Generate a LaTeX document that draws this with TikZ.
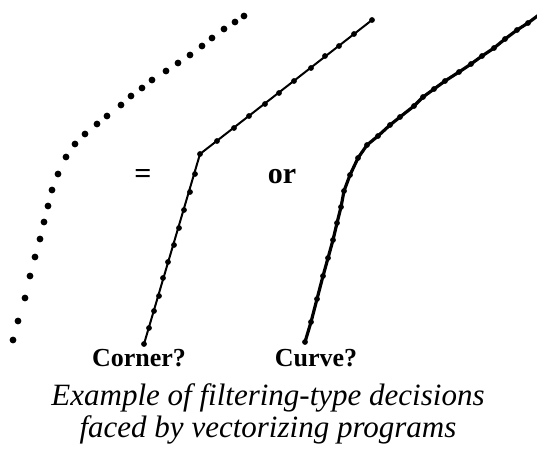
\documentclass[tikz,border=0pt]{standalone}
\usepackage{fontspec}
\setmainfont{Liberation Serif}
\begin{document}
\begin{tikzpicture}[x=1pt,y=-1pt,
  bigdot/.style={fill=black},
  smalldot/.style={fill=black},
  cornerline/.style={line width=2pt,line join=round},
  curveline/.style={line width=3.2pt,line join=round,line cap=round},
  lbl/.style={font=\fontsize{26}{28}\selectfont\bfseries,inner sep=0pt,anchor=base},
  midlbl/.style={font=\fontsize{30}{32}\selectfont\bfseries,inner sep=0pt,anchor=base},
  captxt/.style={font=\fontsize{31}{33}\selectfont\itshape,inner sep=0pt,anchor=base}]
\useasboundingbox (0,0) rectangle (537,450);
% dotted curve
\foreach \p in {(244,16),(235,22),(224,29),(212,38),(202,46),(190,55),(178,63),(166,71),(152,80),(142,88),(131,96),(121,105),(107,116),(97,124),(85,134),(75,144),(66,157),(58,174),(52,190),(48,206),(44,222),(40,239),(35,257),(30,276),(25,298),(18,321),(13,340)}
  \fill[bigdot] \p circle (3.4);
% corner polyline
\draw[cornerline] (144,344) -- (200,154) -- (372,20);
\foreach \p in {(144,344),(149,328),(154,311),(159,296),(163,278),(168,262),(174,245),(179,228),(184,210),(190,192),(195,174),(200,154),(217,141),(234,128),(249,116),(265,104),(279,93),(294,81),(311,68),(325,56),(339,46),(354,34),(372,20)}
  \fill[smalldot] \p circle (2.9);
% curve polyline
\draw[curveline] (305,342) -- (311,322) -- (317,299) -- (323,276) -- (328,258) -- (333,240) -- (337,223) -- (341,207) -- (344,191) -- (350,175) -- (358,158) -- (367,145) -- (378,136) -- (390,125) -- (400,117) -- (414,106) -- (423,97) -- (434,89) -- (445,81) -- (459,72) -- (471,64) -- (482,56) -- (494,48) -- (505,39) -- (517,30) -- (528,23) -- (540,14);
\foreach \p in {(305,342),(311,322),(317,299),(323,276),(328,258),(333,240),(337,223),(341,207),(344,191),(350,175),(358,158),(367,145),(378,136),(390,125),(400,117),(414,106),(423,97),(434,89),(445,81),(459,72),(471,64),(482,56),(494,48),(505,39),(517,30),(528,23)}
  \fill[smalldot] \p circle (2.9);
% labels
\node[midlbl] (eq) at (143,183) {=};
\node[midlbl] (or) at (282,183) {or};
\node[lbl] (corner) at (139,366) {Corner?};
\node[lbl] (curve) at (316,366) {Curve?};
\node[captxt] (cap1) at (268,405) {Example of filtering-type decisions};
\node[captxt] (cap2) at (268,437) {faced by vectorizing programs};
\end{tikzpicture}
\end{document}
